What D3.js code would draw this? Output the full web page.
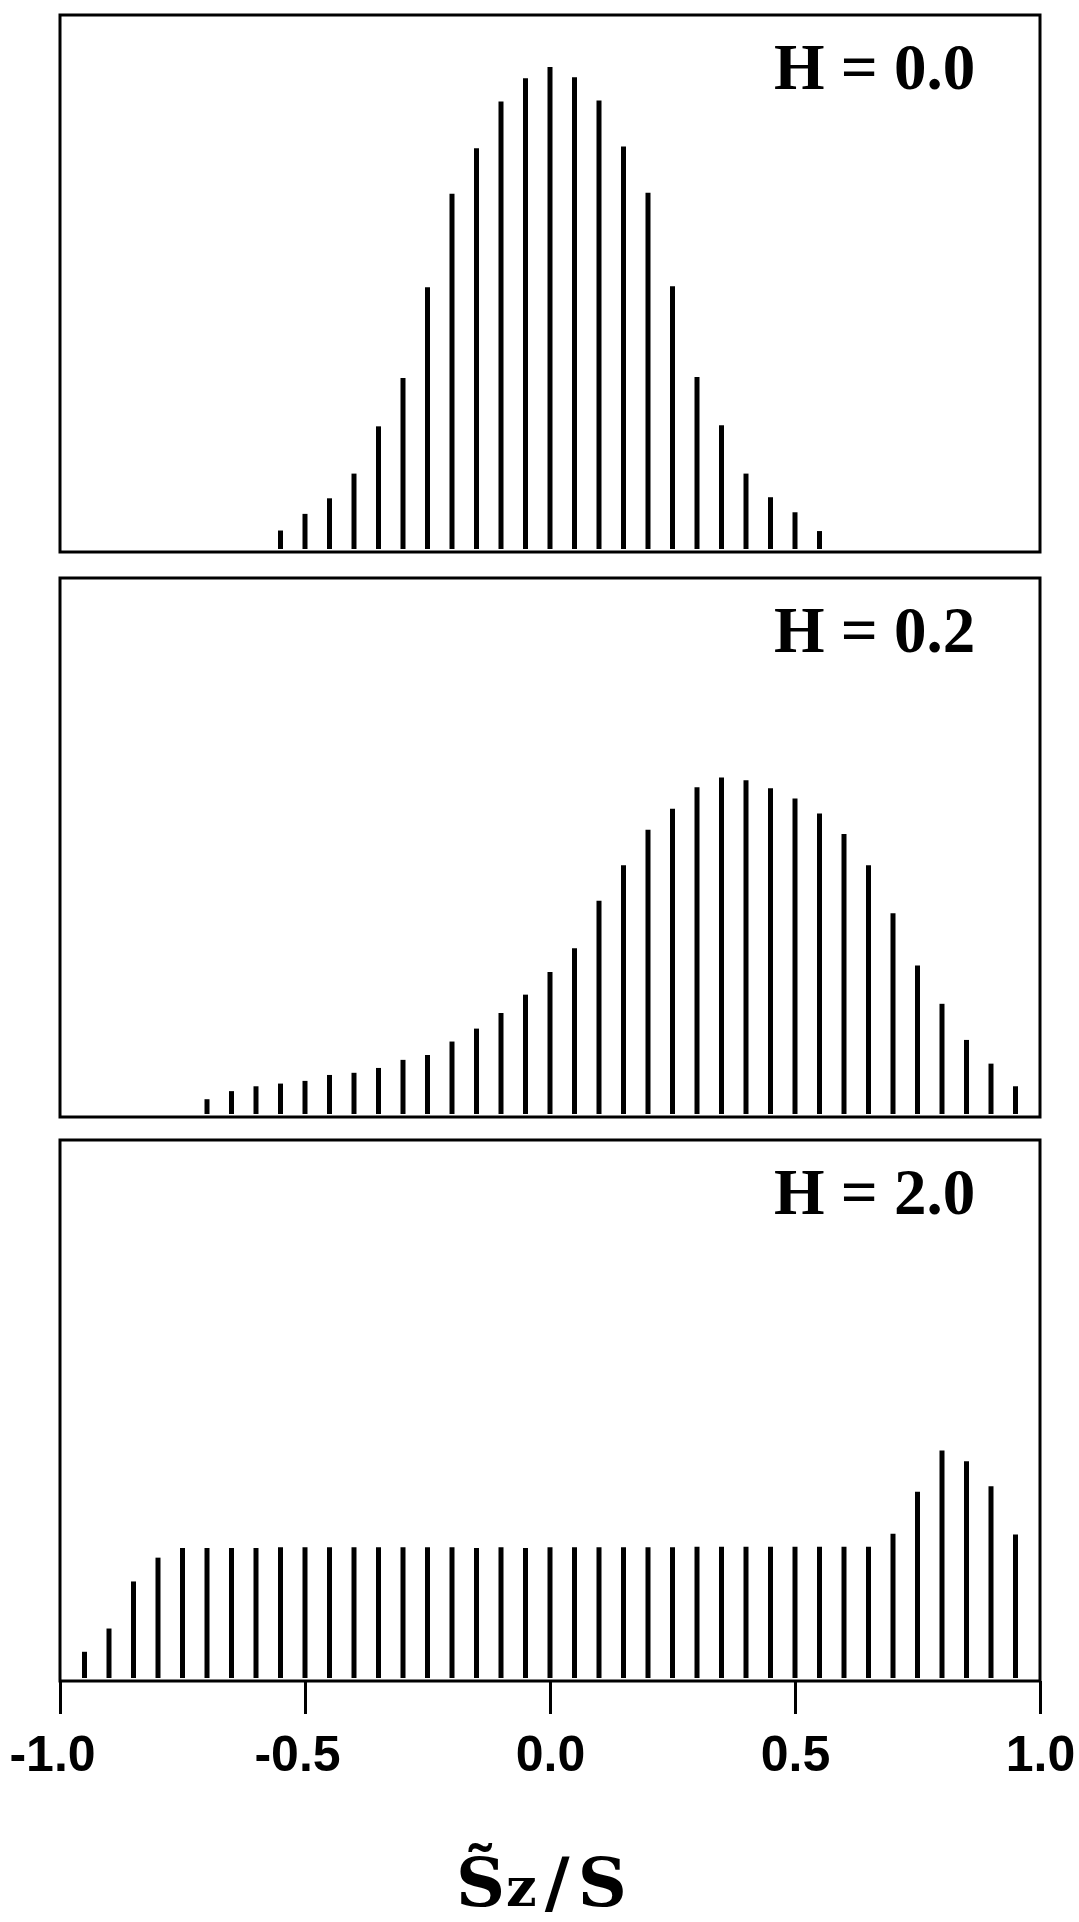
<!DOCTYPE html>
<html>
<head>
<meta charset="utf-8">
<script src="https://cdn.jsdelivr.net/npm/d3@7"></script>
<style>
  body { margin: 0; background: #fff; }
</style>
</head>
<body>
<div class="chart"></div>
<script>
// Sz/S positions of the bars in each panel
var szH00 = [-0.55, -0.50, -0.45, -0.40, -0.35, -0.30, -0.25, -0.20, -0.15, -0.10, -0.05,
  0.00, 0.05, 0.10, 0.15, 0.20, 0.25, 0.30, 0.35, 0.40, 0.45, 0.50, 0.55];
var szH02 = [-0.70, -0.65, -0.60, -0.55, -0.50, -0.45, -0.40, -0.35, -0.30, -0.25, -0.20,
  -0.15, -0.10, -0.05, 0.00, 0.05, 0.10, 0.15, 0.20, 0.25, 0.30, 0.35, 0.40, 0.45,
  0.50, 0.55, 0.60, 0.65, 0.70, 0.75, 0.80, 0.85, 0.90, 0.95];
var szH20 = [-0.95, -0.90, -0.85, -0.80, -0.75, -0.70, -0.65, -0.60, -0.55, -0.50, -0.45,
  -0.40, -0.35, -0.30, -0.25, -0.20, -0.15, -0.10, -0.05, 0.00, 0.05, 0.10, 0.15, 0.20,
  0.25, 0.30, 0.35, 0.40, 0.45, 0.50, 0.55, 0.60, 0.65, 0.70, 0.75, 0.80, 0.85, 0.90, 0.95];

// bar heights (relative units)
var pH00 = [0.040, 0.071, 0.100, 0.146, 0.234, 0.324, 0.493, 0.667, 0.752, 0.839, 0.882,
  0.903, 0.884, 0.841, 0.755, 0.669, 0.495, 0.326, 0.236, 0.146, 0.102, 0.074, 0.039];
var pH02 = [0.033, 0.048, 0.057, 0.062, 0.067, 0.078, 0.082, 0.091, 0.106, 0.115, 0.140,
  0.164, 0.193, 0.227, 0.269, 0.313, 0.401, 0.467, 0.533, 0.572, 0.612, 0.630, 0.625, 0.610,
  0.591, 0.563, 0.525, 0.467, 0.378, 0.281, 0.210, 0.143, 0.099, 0.057];
var pH20 = [0.054, 0.097, 0.184, 0.228, 0.246, 0.246, 0.246, 0.246, 0.247, 0.247, 0.247,
  0.247, 0.247, 0.247, 0.247, 0.247, 0.246, 0.247, 0.246, 0.247, 0.247, 0.247, 0.247, 0.247,
  0.247, 0.248, 0.248, 0.248, 0.248, 0.248, 0.248, 0.248, 0.248, 0.272, 0.350, 0.426, 0.406,
  0.360, 0.271];

var panelLabels = ["H = 0.0", "H = 0.2", "H = 2.0"];
var xTicks = [-1.0, -0.5, 0.0, 0.5, 1.0];

var svgWidth = 1079;
var svgHeight = 1922;

var svg = d3.select(".chart")
  .append("svg")
  .attr("width", svgWidth)
  .attr("height", svgHeight);

svg.append("rect")
  .attr("width", svgWidth)
  .attr("height", svgHeight)
  .attr("fill", "#fff");

// shared horizontal scale
var xScale = d3.scaleLinear()
  .domain([-1, 1])
  .range([60, 1040]);

// vertical extent of each panel
var panels = [
  { top: 15, bottom: 552, sz: szH00, p: pH00, label: panelLabels[0] },
  { top: 578, bottom: 1117, sz: szH02, p: pH02, label: panelLabels[1] },
  { top: 1140, bottom: 1681, sz: szH20, p: pH20, label: panelLabels[2] }
];

panels.forEach(function (panel) {
  var yScale = d3.scaleLinear()
    .domain([0, 1])
    .range([panel.bottom, panel.top]);

  var g = svg.append("g");

  // bars
  g.selectAll("line.bar")
    .data(panel.sz)
    .enter()
    .append("line")
    .attr("class", "bar")
    .attr("x1", d => xScale(d))
    .attr("x2", d => xScale(d))
    .attr("y1", yScale(0) - 3)
    .attr("y2", (d, i) => yScale(panel.p[i]))
    .attr("stroke", "#000")
    .attr("stroke-width", 5);

  // frame
  g.append("rect")
    .attr("x", xScale(-1))
    .attr("y", panel.top)
    .attr("width", xScale(1) - xScale(-1))
    .attr("height", panel.bottom - panel.top)
    .attr("fill", "none")
    .attr("stroke", "#000")
    .attr("stroke-width", 3);

  g.append("text")
    .attr("x", 774)
    .attr("y", panel.top + 74)
    .attr("font-family", "'Liberation Serif', 'Times New Roman', serif")
    .attr("font-weight", "bold")
    .attr("font-size", "65px")
    .attr("fill", "#000")
    .text(panel.label);
});

// x axis under the last panel
var bottomAxis = d3.axisBottom(xScale)
  .tickValues(xTicks)
  .tickSize(33)
  .tickSizeOuter(0)
  .tickPadding(21)
  .tickFormat(d => d.toFixed(1));

var axisG = svg.append("g")
  .attr("transform", `translate(0, ${panels[2].bottom})`)
  .call(bottomAxis);

axisG.select(".domain").remove();
axisG.selectAll(".tick line")
  .attr("stroke", "#000")
  .attr("stroke-width", 3);
// the minus sign hangs to the left of the centred number
axisG.selectAll(".tick text")
  .attr("fill", "#000")
  .attr("dx", d => d < 0 ? -8 : 0)
  .attr("font-family", "'Liberation Sans', Arial, sans-serif")
  .attr("font-weight", "bold")
  .attr("font-size", "50px");

// axis title: S~z / S
var title = svg.append("text")
  .attr("x", 456)
  .attr("y", 1906)
  .attr("font-family", "'DejaVu Serif', serif")
  .attr("font-weight", "bold")
  .attr("font-size", "68px")
  .attr("fill", "#000");

title.append("tspan").text("S\u0303");
title.append("tspan")
  .attr("font-size", "54px")
  .attr("dx", "1")
  .text("z");
title.append("tspan")
  .attr("dx", "8")
  .text("/");
title.append("tspan")
  .attr("dx", "8")
  .text("S");
</script>
</body>
</html>
